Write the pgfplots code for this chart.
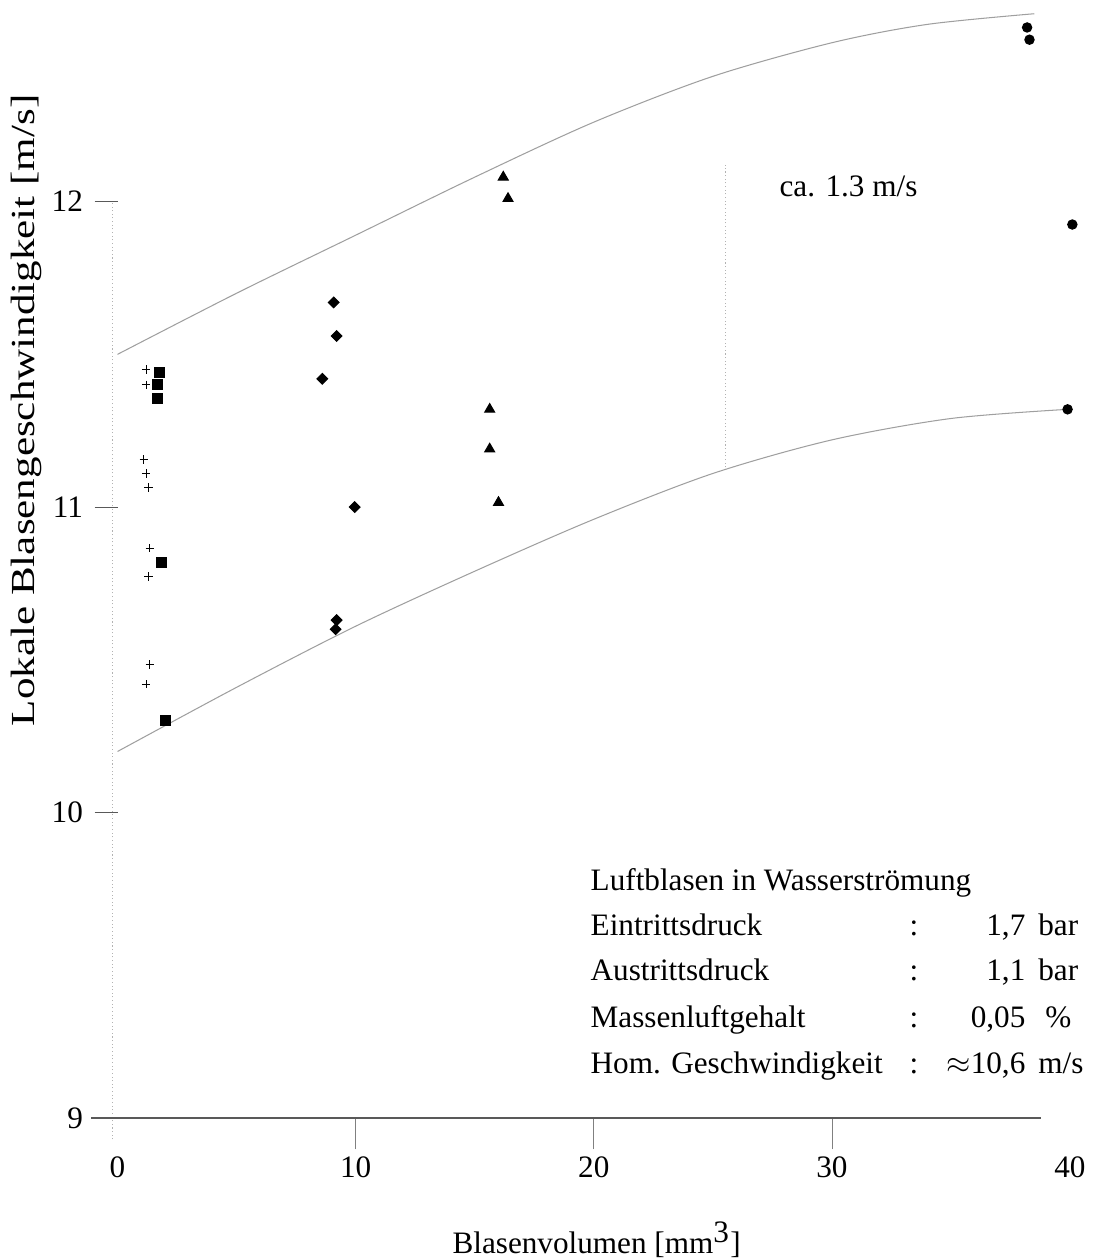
\documentclass[border=0pt]{standalone}
\usepackage{fontspec}
\setmainfont{Liberation Serif}
\usepackage{pgfplots}
\pgfplotsset{compat=1.18}

\begin{document}
\begin{tikzpicture}
\begin{axis}[
  scale only axis,
  width=366.3pt, height=430pt,
  xmin=0, xmax=40, ymin=9, ymax=12.66,
  axis x line=bottom, axis y line=left,
  axis line style={draw=none},
  clip=false,
  xtick={10,20,30},
  extra x ticks={0,40},
  extra x tick style={major tick style={draw=none}},
  ytick={9,10,11,12},
  tick align=outside,
  xtick style={gray, /pgfplots/major tick length=12pt},
  ytick style={gray!70!black, /pgfplots/major tick length=8.8pt},
  /pgf/number format/assume math mode=true,
  tick label style={font=\fontsize{12}{14}\selectfont, text=black},
  xticklabel style={yshift=-7pt},
  yticklabel style={xshift=-5.5pt},
  xlabel={Blasenvolumen [mm\textsuperscript{\large 3}]},
  ylabel={\scalebox{1.38}[1.08]{Lokale Blasengeschwindigkeit [m/s]}},
  label style={font=\fontsize{12}{14}\selectfont},
  xlabel style={at={(axis description cs:0.503,-0.109)}, anchor=center},
  ylabel style={at={(axis description cs:-0.096,0.633)}, anchor=center},
]

% axis lines as in the scan
\draw[gray!60, densely dotted] (axis cs:-0.2,8.93) -- (axis cs:-0.2,12.0);
\draw[gray!70!black, line width=0.6pt] (axis cs:-1.1,9) -- (axis cs:38.8,9);

% envelope curves
\addplot[gray!75, thin, smooth, no marks] coordinates {
  (0,11.50) (5,11.70) (10,11.89) (15,12.08) (20,12.26) (25,12.41)
  (30,12.52) (34,12.58) (38.5,12.615)
};
\addplot[gray!75, thin, smooth, no marks] coordinates {
  (0,10.20) (5,10.41) (10,10.61) (15,10.79) (20,10.96) (25,11.11)
  (30,11.22) (35,11.29) (39.9,11.32)
};
% spread marker
\addplot[gray!60, densely dotted, no marks] coordinates {(25.55,11.13) (25.55,12.12)};

% measured bubbles
\addplot[only marks, mark=+, mark size=1.6pt, black, thin] coordinates {
  (1.2,11.45) (1.2,11.40) (1.1,11.156) (1.2,11.11) (1.3,11.064)
  (1.35,10.865) (1.3,10.773) (1.35,10.485) (1.2,10.42)
};
\addplot[only marks, mark=square*, mark size=1.9pt, black] coordinates {
  (1.76,11.44) (1.68,11.40) (1.68,11.355) (1.85,10.82) (2.0,10.30)
};
\addplot[only marks, mark=square*, mark size=1.45pt, black,
  mark options={rotate=45}] coordinates {
  (9.08,11.67) (9.2,11.56) (8.6,11.42) (9.96,11.0) (9.2,10.63) (9.16,10.60)
};
\addplot[only marks, mark=triangle*, mark size=2.2pt, black] coordinates {
  (16.2,12.08) (16.4,12.01) (15.63,11.32) (15.63,11.19) (16.0,11.015)
};
\addplot[only marks, mark=*, mark size=1.8pt, black] coordinates {
  (38.2,12.57) (38.3,12.53) (40.1,11.925) (39.9,11.32)
};

\node[font=\fontsize{12}{14}\selectfont] at (axis cs:30.7,12.05) {ca. 1.3 m/s};

\begin{scope}[every node/.style={font=\fontsize{12}{14}\selectfont, inner sep=0pt}]
\node[anchor=base west] at (axis cs:19.85,9.746) {Luftblasen in Wasserströmung};
\node[anchor=base west] at (axis cs:19.85,9.599) {Eintrittsdruck};
\node[anchor=base west] at (axis cs:19.85,9.451) {Austrittsdruck};
\node[anchor=base west] at (axis cs:19.85,9.298) {Massenluftgehalt};
\node[anchor=base west] at (axis cs:19.85,9.147) {Hom. Geschwindigkeit};
\node[anchor=base] at (axis cs:33.45,9.599) {:};
\node[anchor=base] at (axis cs:33.45,9.451) {:};
\node[anchor=base] at (axis cs:33.45,9.298) {:};
\node[anchor=base] at (axis cs:33.45,9.147) {:};
\node[anchor=base east] at (axis cs:38.15,9.599) {1,7};
\node[anchor=base east] at (axis cs:38.15,9.451) {1,1};
\node[anchor=base east] at (axis cs:38.15,9.298) {0,05};
\node[anchor=base east] at (axis cs:38.15,9.147) {$\approx$10,6};
\node[anchor=base west] at (axis cs:38.65,9.599) {bar};
\node[anchor=base west] at (axis cs:38.65,9.451) {bar};
\node[anchor=base west] at (axis cs:38.95,9.298) {\%};
\node[anchor=base west] at (axis cs:38.65,9.147) {m/s};
\end{scope}
\end{axis}
\pgfresetboundingbox
\path (current axis.south west) ++(-45.2pt,-54.2pt) rectangle ([xshift=14.2pt]current axis.north east);
\end{tikzpicture}
\end{document}
